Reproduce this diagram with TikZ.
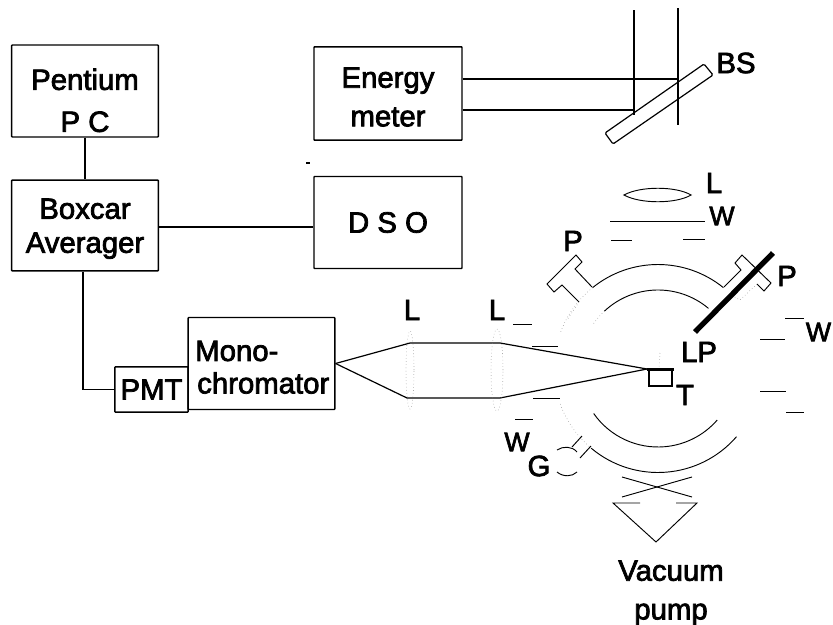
\documentclass[tikz,border=0pt]{standalone}
\usepackage{fontspec}
\setmainfont[FakeBold=2.5]{Liberation Sans}
\usetikzlibrary{calc,positioning}

\begin{document}
\begin{tikzpicture}[x=0.75pt,y=0.75pt,
  b/.style={draw,line width=1.1pt,rounded corners=0.5pt,inner sep=0pt,align=center,font=\fontsize{22}{29}\selectfont},
  l/.style={inner sep=0pt,font=\fontsize{22}{26}\selectfont,align=center},
  lw/.style={inner sep=0pt,font=\fontsize{20}{24}\selectfont},
  w/.style={line width=0.9pt},
  c/.style={line width=0.7pt},
  f/.style={line width=0.4pt,dotted,gray}]
  \useasboundingbox (0,0) rectangle (833,-625);
  % instrument boxes
  \node[b,minimum width=110pt,minimum height=69pt] (pc)  at (85,-91)    {\rule{0pt}{30pt}Pentium\\[2.5pt]P C};
  \node[b,minimum width=110pt,minimum height=68pt] (box) at (85,-225.5)  {\rule{0pt}{20pt}Boxcar\\[-3.5pt]Averager};
  \node[b,minimum width=111pt,minimum height=70pt] (em)  at (388,-93.5)  {\rule{0pt}{20.5pt}Energy\\meter};
  \node[b,minimum width=111pt,minimum height=69pt] (dso) at (388,-222.5) {D S O};
  \node[b,minimum width=110pt,minimum height=69pt] (mono) at (261.5,-363.5) {};
  \node[b,minimum width=55pt,minimum height=34pt]  (pmt) at (151.5,-389.5) {PMT};
  \node[l,anchor=west] (monot) at (195,-351) {Mono-};
  \node[l,anchor=west] (chrom) at (197,-383) {chromator};
  \draw[w] (pc)--(box);
  \draw[w] (box.east|-0,-227)--(dso.west|-0,-227);
  \draw[w] (box.south-|83,0)|-(pmt.west);
  % energy beams and splitter
  \coordinate (ba) at (634,-115);
  \coordinate (bb) at (678,-79);
  \draw[w] (em.east|-0,-79)--(bb);
  \draw[w] (em.east|-0,-110)--(634,-110)--(ba);
  \draw[w] (634,-10)--(ba);
  \draw[w] (678,-8)--(678,-125);
  \draw[line width=0.9pt,rounded corners=1pt] (605,-133)--(613,-144)--(713,-75)--(704,-64)--cycle;
  \node[l] (bs) at (736,-63) {BS};
  % collection optics
  \coordinate (mo) at (mono.east);
  \coordinate (t1) at (410,-343);
  \coordinate (t2) at (500,-343);
  \coordinate (u1) at (407,-398);
  \coordinate (u2) at (500,-398);
  \coordinate (sp) at (647,-369);
  \draw[w] (mo)--(t1)--(t2)--(sp);
  \draw[w] (mo)--(u1)--(u2)--(sp);
  \draw[f] (410,-370) ellipse (4 and 39);
  \draw[f] (497,-370) ellipse (6 and 41);
  \node[l] (l1) at (412,-310) {L};
  \node[l] (l2) at (497,-310) {L};
  % chamber
  \coordinate (ch) at (658,-368.5);
  \draw[c] ([shift={(51:104)}]ch) arc[start angle=51,end angle=129,radius=104];
  \draw[f] ([shift={(129:104)}]ch) arc[start angle=129,end angle=160,radius=104];
  \draw[c] ([shift={(230:104)}]ch) arc[start angle=230,end angle=319,radius=104];
  \draw[f] ([shift={(200:104)}]ch) arc[start angle=200,end angle=230,radius=104];
  \draw[c] ([shift={(50:78.5)}]ch) arc[start angle=50,end angle=133,radius=78.5];
  \draw[f] ([shift={(133:78.5)}]ch) arc[start angle=133,end angle=145,radius=78.5];
  \draw[c] ([shift={(215:78.5)}]ch) arc[start angle=215,end angle=319,radius=78.5];
  % ports
  \draw[c] (579,-302)--(562,-285)--(554,-292)--(547,-284)--(576,-255)--(582,-262)--(575,-269)--(592,-287);
  \draw[f] (579,-302)--(567,-320);
  \draw[c] (724,-287)--(741,-270)--(735,-263)--(742,-255)--(771,-283)--(764,-291)--(757,-284);
  \draw[f] (757,-284)--(740,-300)--(733,-296);
  \draw[line width=4pt] (695,-332)--(773,-253);
  \node[l] (p1) at (573,-241) {P};
  \node[l] (p2) at (787,-276) {P};
  \node[l] (lp) at (699,-352) {LP};
  % top lens and window
  \draw[c] (624,-195) .. controls (640,-186) and (676,-186) .. (691,-195) .. controls (676,-204) and (640,-204) .. cycle;
  \draw[c] (610,-221)--(705,-221);
  \draw[c] (611,-240.5)--(632,-240.5);
  \draw[c] (683,-239)--(705,-239);
  \node[l] (lt) at (714,-183) {L};
  \node[lw] (wt) at (722,-216) {W};
  % side windows
  \draw[c] (513,-324)--(532,-324);
  \draw[c] (532,-346)--(558,-346);
  \draw[c] (533,-398)--(560,-398);
  \draw[c] (515,-419)--(533,-419);
  \node[lw] (wl) at (517,-442) {W};
  \draw[c] (785,-318)--(804,-318);
  \draw[c] (760,-339)--(785,-339);
  \draw[c] (760,-391)--(786,-391);
  \draw[c] (786,-412)--(804,-412);
  \node[lw] (wr) at (818.5,-332) {W};
  % target
  \draw[w] (649,-370)--(649,-386)--(672,-386)--(672,-370);
  \draw[line width=2.4pt] (647,-369.5)--(674,-369.5);
  \draw[f] (660,-353)--(659,-368);
  \node[l] (tg) at (685,-395) {T};
  % gauge
  \draw[c] (582,-436)--(572,-447);
  \draw[c] (591,-446)--(580,-458);
  \draw[c] (557,-450) .. controls (563,-446) and (572,-446) .. (577,-452);
  \draw[c] (557,-472) .. controls (563,-477) and (572,-477) .. (577,-472);
  \node[l] (g) at (539,-466) {G};
  % valve and pump
  \draw[c] (622,-477)--(692,-497);
  \draw[c] (622,-497)--(692,-477);
  \draw[c] (640,-503)--(613,-503)--(656,-542)--(697,-503)--(676,-503);
  \node[l] (vp) at (671,-593) {Vacuum\\[3pt]pump};
  \draw[line width=0.9pt] (306,-163)--(310,-163);
\end{tikzpicture}
\end{document}
